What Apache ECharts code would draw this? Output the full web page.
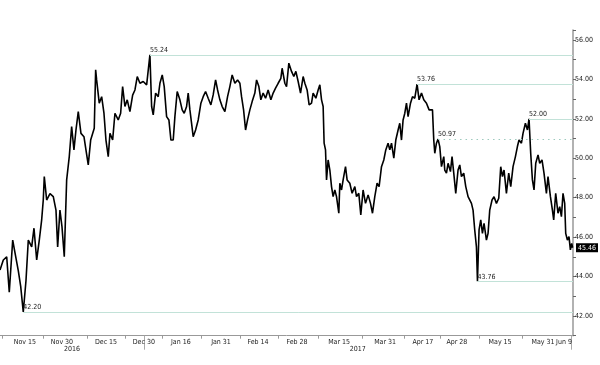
<!DOCTYPE html>
<html>
<head>
<meta charset="utf-8">
<script src="https://cdn.jsdelivr.net/npm/echarts@6/dist/echarts.min.js"></script>
<style>html,body{margin:0;padding:0;background:#fff}#c{width:600px;height:365px}</style>
</head>
<body>
<div id="c"></div>
<script>
// trading-session index (x) and price (y)
const sessions = [0,0.85,1.72,2.38,3.26,3.85,4.69,5.31,5.97,6.67,7.26,8.13,8.72,9.41,10.08,10.69,11.10,11.36,11.97,12.82,13.67,14.36,14.79,15.38,15.90,16.49,17.10,17.77,18.38,18.97,19.49,20.08,20.77,21.54,22.05,22.64,23.26,24.18,24.54,24.79,25.46,26.08,26.67,27.18,27.77,28.21,28.90,29.49,30.33,30.95,31.46,32.05,32.64,33.33,34.03,34.62,35.21,35.90,36.74,37.18,37.62,38.03,38.46,38.90,39.31,39.92,40.59,41.03,41.62,42.13,42.74,43.33,43.85,44.44,44.87,45.46,46.15,46.74,47.26,47.87,48.28,48.72,49.15,49.56,50.18,50.85,51.54,52.13,52.74,53.41,54.10,54.69,55.31,55.82,56.41,57.00,57.69,58.38,58.97,59.56,60.26,60.95,61.54,61.97,62.49,63.00,63.51,64.10,64.69,65.38,65.82,66.41,66.92,67.51,68.13,68.79,69.49,70.08,70.69,71.36,72.05,72.38,73.08,73.51,74.10,74.79,75.38,75.90,76.49,77.10,77.77,78.21,78.79,79.31,79.92,80.33,81.03,81.62,82.05,82.49,82.90,83.15,83.51,83.77,84.18,84.62,85.05,85.46,85.90,86.33,86.92,87.18,87.62,88.03,88.64,89.05,89.74,90.33,91.03,91.46,92.05,92.56,93.15,93.77,94.44,95.05,95.56,96.15,96.74,97.26,97.87,98.46,98.97,99.56,100.00,100.44,101.03,101.54,102.13,102.56,103.00,103.41,103.85,104.28,104.69,105.31,105.82,106.41,107.00,107.51,108.13,108.72,109.41,110.08,110.95,111.28,111.54,111.97,112.38,112.82,113.26,113.85,114.10,114.54,114.95,115.56,115.97,116.41,116.92,117.51,117.95,118.38,118.97,119.49,120.08,120.51,120.95,121.36,121.79,122.23,122.49,122.90,123.33,123.77,124.18,124.79,125.21,125.64,126.23,126.74,127.36,127.95,128.46,128.90,129.31,129.92,130.51,131.03,131.62,132.23,132.74,133.15,133.77,134.18,134.79,135.31,135.72,136.15,136.59,137.00,137.44,138.03,138.46,139.05,139.56,140.18,140.59,141.21,141.72,142.05,142.56,143.15,143.59,144.03,144.44,144.87,145.13,145.56,145.97,146.33,146.67,146.9];
const prices = [44.33,44.84,45.0,43.2,45.85,45.2,44.3,43.5,42.2,43.8,45.85,45.5,46.45,44.84,45.85,46.87,47.88,49.07,47.88,48.2,48.05,47.37,45.5,47.37,46.53,45.0,48.9,50.08,51.6,50.42,51.43,52.36,51.26,51.09,50.42,49.66,50.92,51.52,54.48,53.97,52.79,53.12,52.28,50.92,50.08,51.26,50.92,52.28,51.94,52.28,53.63,52.62,52.96,52.36,53.2,53.46,54.14,53.8,53.89,53.97,53.72,53.8,55.24,52.62,52.2,53.3,53.12,53.8,54.22,53.63,52.11,51.94,50.92,50.92,52.11,53.38,52.96,52.45,52.28,52.62,53.3,52.45,51.77,51.09,51.43,51.94,52.79,53.12,53.38,53.04,52.7,53.21,53.97,53.46,52.96,52.62,52.36,53.12,53.63,54.22,53.8,53.97,53.8,53.12,52.45,51.43,51.94,52.45,52.87,53.3,53.97,53.63,52.96,53.3,53.04,53.46,52.96,53.3,53.55,53.8,54.05,54.56,53.8,53.63,54.82,54.4,54.14,54.4,53.89,53.3,54.14,53.8,53.46,52.7,52.79,53.3,53.04,53.46,53.72,52.96,52.62,50.76,50.42,48.9,49.91,49.4,48.56,48.05,48.39,48.05,47.21,48.73,48.39,48.9,49.57,48.9,48.73,48.22,48.56,48.05,48.22,47.12,48.39,47.71,48.14,47.71,47.21,48.05,48.73,48.56,49.57,49.91,50.42,50.76,50.42,50.76,50.0,50.92,51.43,51.77,50.92,51.94,52.28,52.79,52.11,52.79,53.12,53.04,53.76,52.96,53.3,52.96,52.79,52.45,52.45,50.92,50.25,50.76,50.97,50.59,49.57,50.08,49.4,49.24,49.74,49.32,50.08,49.24,48.22,49.4,49.66,49.07,49.24,48.56,48.05,48.05,47.71,47.37,46.36,45.5,43.76,46.36,46.87,46.19,46.7,45.85,46.19,47.37,47.88,48.05,47.71,47.97,49.57,49.07,49.4,48.22,49.24,48.56,49.57,50.08,50.59,50.92,50.76,51.26,51.77,51.43,52.0,50.25,48.9,48.39,49.74,50.17,49.74,49.91,49.24,48.22,49.07,48.05,47.37,46.87,48.22,47.21,47.54,47.04,48.22,47.71,46.19,45.85,46.02,45.35,45.68,45.46];

// x-axis date labels and their session positions
const dateLabels = ['Nov 15','Nov 30','Dec 15','Dec 30','Jan 16','Jan 31','Feb 14','Feb 28','Mar 15','Mar 31','Apr 17','Apr 28','May 15','May 31','Jun 9'];
const dateLabelSessions = [6.4,15.9,27.2,36.9,46.4,56.7,66.2,76.2,87.0,98.8,108.5,117.2,128.3,139.3,144.7];
const dateTickSessions = [0.5,11.0,22.3,32.1,41.6,51.6,61.6,71.3,81.6,92.9,103.6,112.9,122.9,133.9];
const yearLabels = ['2016','2017'];
const yearLabelSessions = [18.5,91.8];
const yearDividerSessions = [36.9,146.5];
const yLabelValues = [42,44,46,48,50,52,54,56];

// annotated levels: value and session where the level line starts
const levelValues = [55.24,53.76,52.00,43.76,42.20];
const levelStarts = [38.46,107.0,135.72,122.49,5.97];
const dottedLevel = 50.97;
const dottedStart = 112.38;
const lastValue = 45.46;

const FONT = "'Liberation Sans Narrow','DejaVu Sans Condensed',sans-serif";
const XMAX = 147;

const lvlStyle = {color:'#c2e2d8', width:1, type:'solid'};
const lvlLabel = {show:true, position:'insideStartTop', distance:[0,1], color:'#222', fontSize:7, fontFamily:FONT};

const markData = levelValues.map((v,i)=>[
  {coord:[levelStarts[i], v], lineStyle:lvlStyle, label:Object.assign({formatter:v.toFixed(2)}, lvlLabel)},
  {coord:[XMAX, v]}
]);
markData.push([
  {coord:[dottedStart, dottedLevel], lineStyle:{color:'#9cc9bd', width:1, type:[1.5,4]}, label:Object.assign({formatter:dottedLevel.toFixed(2)}, lvlLabel)},
  {coord:[XMAX, dottedLevel]}
]);
markData.push([
  {coord:[sessions[sessions.length-1], lastValue], lineStyle:{width:1, color:'rgba(0,0,0,0)'},
   label:{show:true, position:'end', distance:3, formatter:lastValue.toFixed(2), color:'#fff', backgroundColor:'#000', padding:[1,2,1,2], fontSize:7, fontFamily:FONT}},
  {coord:[XMAX, lastValue]}
]);

const chart = echarts.init(document.getElementById('c'), null, {renderer:'canvas'});
chart.setOption({
  animation:false,
  backgroundColor:'#fff',
  grid:{left:0, right:27, top:30, bottom:29.3, containLabel:false},
  xAxis:[{
    type:'value', min:0, max:XMAX,
    axisLine:{show:true, onZero:false, lineStyle:{color:'#999', width:1}},
    axisTick:{show:true, customValues:dateTickSessions, length:3, lineStyle:{color:'#999'}},
    axisLabel:{show:true, customValues:dateLabelSessions, margin:3, fontSize:7, fontFamily:FONT, color:'#222',
      formatter:(v)=>{const i=dateLabelSessions.indexOf(v); return i>=0?dateLabels[i]:'';}},
    splitLine:{show:false}
  },{
    type:'value', min:0, max:XMAX, position:'bottom',
    axisLine:{show:false, onZero:false},
    axisTick:{show:true, customValues:yearDividerSessions, length:14, lineStyle:{color:'#aaa'}},
    axisLabel:{show:true, customValues:yearLabelSessions, margin:10, fontSize:7, fontFamily:FONT, color:'#222',
      formatter:(v)=>{const i=yearLabelSessions.indexOf(v); return i>=0?yearLabels[i]:'';}},
    splitLine:{show:false}
  }],
  yAxis:{
    type:'value', position:'right', min:41, max:56.5, interval:1,
    axisLine:{show:true, onZero:false, lineStyle:{color:'#999', width:1.5}},
    axisTick:{show:true, length:3, lineStyle:{color:'#666'}},
    axisLabel:{show:true, customValues:yLabelValues, margin:2, fontSize:7, fontFamily:FONT, color:'#222',
      formatter:(v)=>v.toFixed(2)},
    splitLine:{show:false}
  },
  series:[{
    type:'line', xAxisIndex:0,
    data:sessions.map((s,i)=>[s, prices[i]]),
    symbol:'none', smooth:false,
    lineStyle:{color:'#000', width:1.6},
    markLine:{silent:true, symbol:['none','none'], animation:false, data:markData}
  }]
});
</script>
</body>
</html>
